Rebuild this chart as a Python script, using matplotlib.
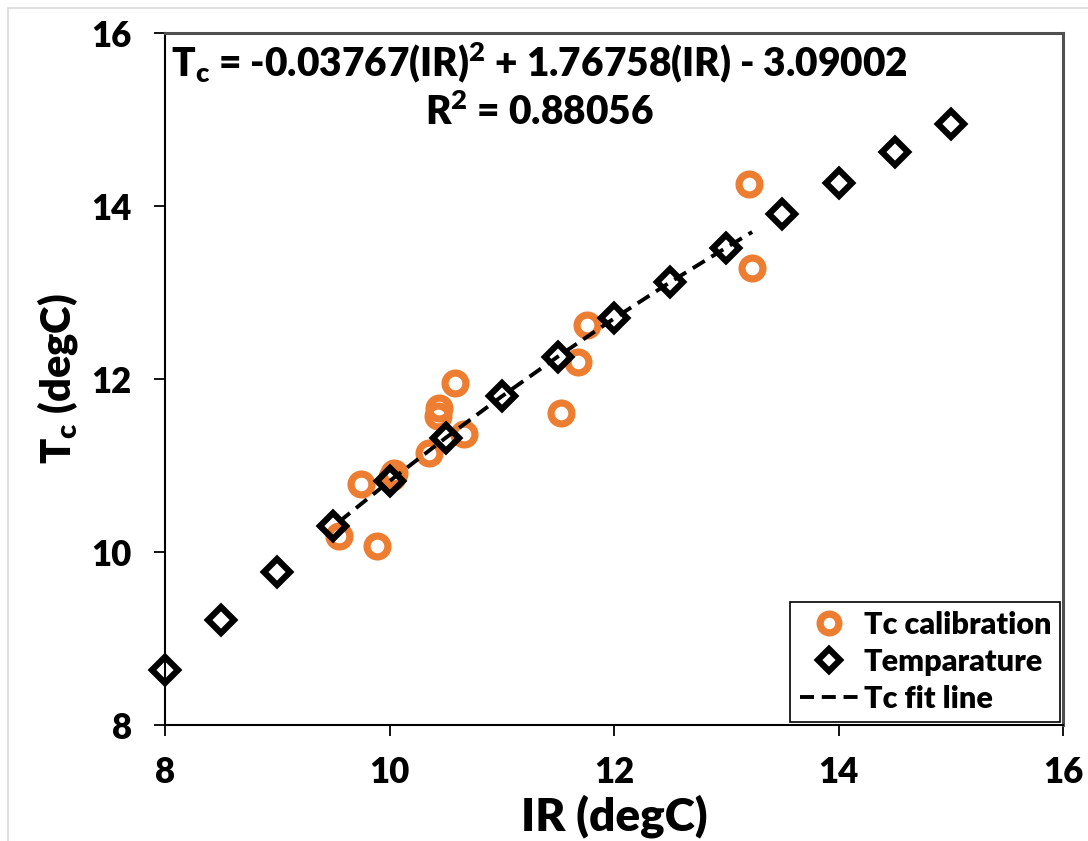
import matplotlib
matplotlib.use('Agg')
import matplotlib.pyplot as plt
from matplotlib.patches import Rectangle

# Tc calibration points (orange rings)
ir_cal = [13.20, 13.23, 11.76, 11.68, 11.53, 10.58, 10.44, 10.43, 10.66, 10.35, 10.04, 10.02, 9.75, 9.55, 9.89]
tc_cal = [14.26, 13.28, 12.62, 12.20, 11.61, 11.95, 11.66, 11.57, 11.36, 11.15, 10.91, 10.87, 10.79, 10.18, 10.07]

# Temparature points (black diamonds)
ir_temp = [8.0, 8.5, 9.0, 9.5, 10.0, 10.5, 11.0, 11.5, 12.0, 12.5, 13.0, 13.5, 14.0, 14.5, 15.0]
tc_temp = [8.64, 9.21, 9.77, 10.30, 10.82, 11.32, 11.80, 12.26, 12.70, 13.12, 13.52, 13.91, 14.27, 14.62, 14.95]

# fit line
fit_ir = [9.55, 10.0, 10.5, 11.0, 11.5, 12.0, 12.5, 13.0, 13.23]
fit_tc = [10.35, 10.82, 11.32, 11.80, 12.26, 12.70, 13.12, 13.52, 13.70]

ticks = [8, 10, 12, 14, 16]

W = 'heavy'
plt.rcParams['font.family'] = ['Lato', 'DejaVu Sans']
plt.rcParams['font.weight'] = W
plt.rcParams['mathtext.fontset'] = 'custom'
plt.rcParams['mathtext.rm'] = 'Lato:heavy'
plt.rcParams['mathtext.it'] = 'Lato:heavy'
plt.rcParams['mathtext.bf'] = 'Lato:heavy'

fig = plt.figure(figsize=(10.88, 8.41), dpi=100)
ax = fig.add_axes([0.1517, 0.1379, 0.8254, 0.8228])

# light chart-area border
fig.patches.append(Rectangle((8 / 1088, -0.02), 1.1, 0.02 + (841 - 8) / 841,
                             transform=fig.transFigure, fill=False,
                             edgecolor='#d9d9d9', linewidth=1.2))

ax.plot(ir_cal, tc_cal, linestyle='none', marker='o', markersize=15,
        markerfacecolor='none', markeredgecolor='#ED7D31', markeredgewidth=5.2,
        label='Tc calibration', zorder=2)
ax.plot(ir_temp, tc_temp, linestyle='none', marker='D', markersize=13,
        markerfacecolor='none', markeredgecolor='black', markeredgewidth=4.5,
        label='Temparature', zorder=3, clip_on=False)
line, = ax.plot(fit_ir, fit_tc, color='black', linewidth=2.8, linestyle='--',
                label='Tc fit line', zorder=4)
line.set_dashes((3.6, 2.0))
line.set_dash_capstyle('butt')

ax.set_xlim(8, 16)
ax.set_ylim(8, 16)
ax.set_xticks(ticks)
ax.set_yticks(ticks)
ax.tick_params(direction='out', length=8, width=1.3, labelsize=25)
ax.tick_params(axis='x', pad=14)
ax.tick_params(axis='y', pad=16)
for lab in ax.get_xticklabels() + ax.get_yticklabels():
    lab.set_fontweight(W)

for s in ['left', 'bottom']:
    ax.spines[s].set_linewidth(1.5)
    ax.spines[s].set_color('black')
for s in ['top', 'right']:
    ax.spines[s].set_linewidth(2.2)
    ax.spines[s].set_color('#505050')

ax.set_xlabel('IR (degC)', fontsize=33, fontweight=W, labelpad=4)
ax.set_ylabel(r'T$_\mathrm{c}$ (degC)', fontsize=30, fontweight=W, labelpad=8)

ax.text(0.4165, 0.957,
        r'T$_\mathrm{c}$ = -0.03767(IR)$^\mathrm{2}$ + 1.76758(IR) - 3.09002',
        transform=ax.transAxes, ha='center', va='center', fontsize=28, fontweight=W)
ax.text(0.4165, 0.886, r'R$^\mathrm{2}$ = 0.88056',
        transform=ax.transAxes, ha='center', va='center', fontsize=28, fontweight=W)

leg = ax.legend(loc='lower right', bbox_to_anchor=(0.997, 0.004),
                prop={'size': 22, 'weight': W},
                frameon=True, fancybox=False, edgecolor='black', framealpha=1,
                handlelength=1.9, handletextpad=0.2, borderpad=0.3,
                labelspacing=0.3, markerscale=0.9, borderaxespad=0)
leg.get_frame().set_linewidth(1.2)

plt.savefig('out.png', dpi=100)
plt.close()
